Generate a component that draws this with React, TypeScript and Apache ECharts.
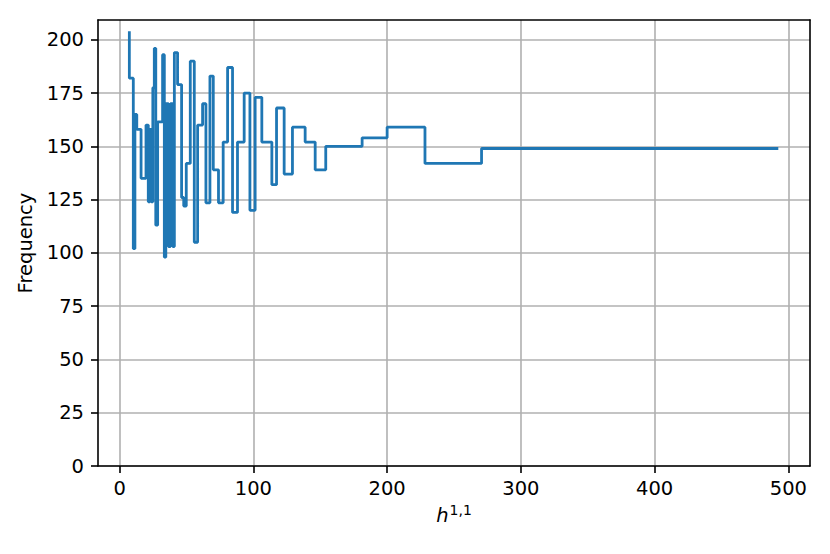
import React, { useEffect, useRef } from "react";
import * as echarts from "echarts";

// Step outline (matplotlib "steps-pre"): level y[i] spans (x[i-1], x[i]]
const stepX = [
  7.24, 10.2, 11.4, 12.8, 16.0, 19.7, 21.4, 22.6, 23.7, 24.8, 25.9, 27.0, 28.4,
  32.1, 33.4, 34.5, 36.5, 38.0, 39.7, 40.9, 43.3, 46.3, 47.9, 49.8, 52.8, 55.8,
  58.3, 62.0, 64.5, 67.5, 70.0, 73.9, 77.4, 80.7, 84.4, 88.1, 93.1, 97.4, 101.3,
  106.3, 113.8, 117.3, 123.0, 129.2, 138.7, 146.2, 154.1, 181.3, 200.0, 228.3,
  270.6, 492.5,
];
const stepY = [
  204, 182, 102, 165, 158, 135, 160, 124, 158, 124, 177.5, 196, 113,
  161.5, 193, 98, 170, 103, 170, 103, 194, 179, 126, 122, 142, 190,
  105, 160, 170, 123.5, 183, 139, 123.5, 152, 187, 119, 152, 175, 120,
  173, 152, 132, 168, 137, 159, 152, 139, 150, 154, 159,
  142, 149,
];
const xTicks = [0, 100, 200, 300, 400, 500];
const yTicks = [0, 25, 50, 75, 100, 125, 150, 175, 200];

const FONT = "DejaVu Sans";
const FS = 19.5;

export default function App() {
  const ref = useRef<HTMLDivElement>(null);
  useEffect(() => {
    const chart = echarts.init(ref.current!, null, { renderer: "svg" });
    const data = stepX.map((x, i) => [x, stepY[i]]);
    chart.setOption({
      animation: false,
      backgroundColor: "#ffffff",
      grid: { left: 98, right: 20, top: 20, bottom: 88, containLabel: false },
      xAxis: [
        {
          type: "value",
          min: -16.2,
          max: 516.2,
          splitNumber: 5,
          name: "{i|h}{s|1,1}",
          nameLocation: "middle",
          nameGap: 34,
          nameTextStyle: {
            rich: {
              i: { fontFamily: FONT, fontStyle: "italic", fontSize: FS, color: "#000" },
              s: { fontFamily: FONT, fontSize: 14, color: "#000", padding: [0, 0, 12, 1] },
            },
          },
          axisLine: { show: true, onZero: false, lineStyle: { color: "#000", width: 1.6 } },
          axisTick: { show: true, inside: false, length: 7, customValues: xTicks, lineStyle: { color: "#000", width: 1.6 } },
          axisLabel: {
            customValues: xTicks,
            margin: 12,
            fontFamily: FONT,
            fontSize: FS,
            color: "#000",
            formatter: (v: number) => (xTicks.includes(v) ? String(v) : ""),
          },
          splitLine: { show: true, lineStyle: { color: "#b0b0b0", width: 1.6 } },
        },
        {
          type: "value",
          position: "top",
          min: -16.2,
          max: 516.2,
          axisLine: { show: true, onZero: false, lineStyle: { color: "#000", width: 1.6 } },
          axisTick: { show: false },
          axisLabel: { show: false },
          splitLine: { show: false },
        },
      ],
      yAxis: [
        {
          type: "value",
          min: 0,
          max: 209.3,
          interval: 25,
          name: "Frequency",
          nameLocation: "middle",
          nameGap: 55,
          nameTextStyle: { fontFamily: FONT, fontSize: FS, color: "#000" },
          axisLine: { show: true, onZero: false, lineStyle: { color: "#000", width: 1.6 } },
          axisTick: { show: true, inside: false, length: 7, customValues: yTicks, lineStyle: { color: "#000", width: 1.6 } },
          axisLabel: {
            customValues: yTicks,
            margin: 14,
            fontFamily: FONT,
            fontSize: FS,
            color: "#000",
            formatter: (v: number) => (yTicks.includes(v) ? String(v) : ""),
          },
          splitLine: { show: true, lineStyle: { color: "#b0b0b0", width: 1.6 } },
        },
        {
          type: "value",
          position: "right",
          min: 0,
          max: 209.3,
          axisLine: { show: true, onZero: false, lineStyle: { color: "#000", width: 1.6 } },
          axisTick: { show: false },
          axisLabel: { show: false },
          splitLine: { show: false },
        },
      ],
      series: [
        {
          type: "line",
          xAxisIndex: 0,
          yAxisIndex: 0,
          step: "start",
          data,
          showSymbol: false,
          symbol: "none",
          lineStyle: { color: "#1f77b4", width: 2.8 },
          z: 3,
        },
      ],
    });
    return () => chart.dispose();
  }, []);
  return (
    <div
      ref={ref}
      style={{ position: "fixed", left: 0, top: 0, width: 830, height: 554, background: "#fff" }}
    />
  );
}
